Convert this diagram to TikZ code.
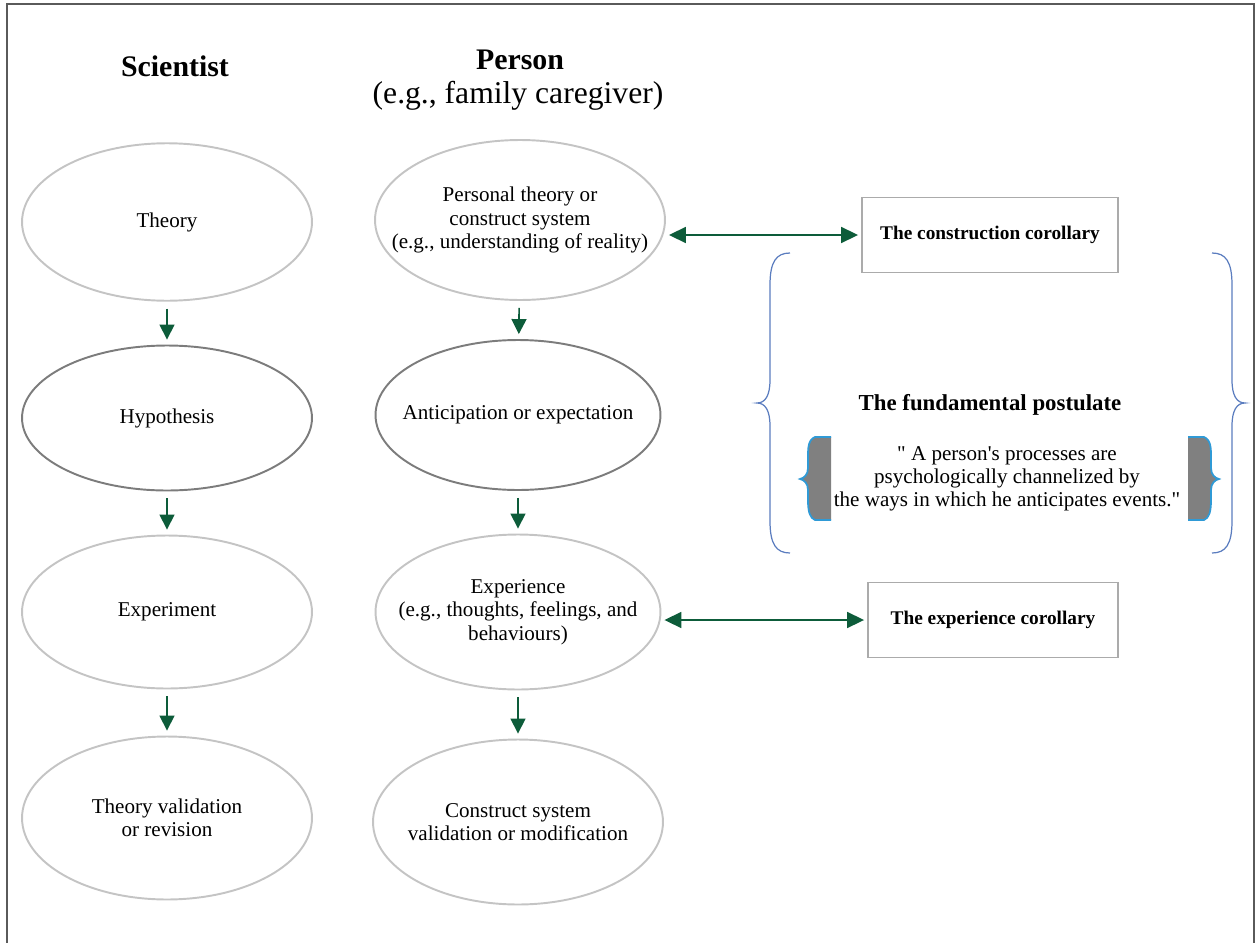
\documentclass[tikz,border=0pt]{standalone}
\usepackage{fontspec}
\setmainfont{Liberation Serif}
\usetikzlibrary{shapes.geometric, arrows.meta}
\definecolor{softgray}{HTML}{C4C4C4}
\definecolor{ringgray}{HTML}{7C7C7C}
\definecolor{boxgray}{HTML}{ABABAB}
\definecolor{framegray}{HTML}{5A5A5A}
\definecolor{arrowgreen}{HTML}{0D5C3A}
\definecolor{braceblue}{HTML}{5B7DBF}
\definecolor{edgeblue}{HTML}{2F9AD6}
\definecolor{fillgray}{HTML}{808080}

\begin{document}
\begin{tikzpicture}[x=0.02cm, y=-0.02cm,
  every node/.style={font=\fontsize{12}{13.4}\selectfont, align=center, inner sep=0pt},
  oval/.style={ellipse, draw=softgray, line width=1.1pt, minimum width=5.8cm, minimum height=3.15cm},
  darkoval/.style={oval, draw=ringgray},
  corollary/.style={rectangle, draw=boxgray, line width=1.1pt, minimum height=1.5cm, font=\fontsize{11}{13}\selectfont\bfseries},
  flow/.style={-{Triangle[width=0.3cm,length=0.3cm]}, arrowgreen, line width=0.9pt, shorten <=0.14cm, shorten >=0.1cm},
  twoway/.style={{Triangle[width=0.32cm,length=0.34cm]}-{Triangle[width=0.32cm,length=0.34cm]}, arrowgreen, line width=1pt, shorten <=0.06cm, shorten >=0.06cm}]
  \useasboundingbox (0,0) rectangle (1258,943);
  \draw[framegray, line width=1pt] (7,943) -- (7,4) -- (1254,4) -- (1254,943);

  \node[font=\fontsize{17}{20}\selectfont\bfseries] (scititle) at (175,66) {Scientist};
  \node[font=\fontsize{17}{20}\selectfont\bfseries] (pertitle) at (520,60) {Person};
  \node[font=\fontsize{18}{21}\selectfont] (persub) at (518,96) {(e.g., family caregiver)};

  % scientist column
  \node[oval, label=center:Theory] (theory) at (167,222) {};
  \node[darkoval, minimum height=2.9cm, label=center:Hypothesis] (hypo) at (167,418) {};
  \node[oval, minimum height=3.06cm, label=center:Experiment] (experiment) at (167,612) {};
  \node[oval, minimum height=3.26cm, label={center:Theory validation\\or revision}] (validation) at (167,818) {};

  % person column
  \node[oval, minimum height=3.2cm, label={center:Personal theory or\\construct system\\(e.g., understanding of reality)}] (ptheory) at (520,220) {};
  \node[darkoval, minimum width=5.7cm, minimum height=3cm, label=center:Anticipation or expectation] (anticip) at (518,415) {};
  \node[oval, minimum width=5.7cm, minimum height=3.1cm, label={center:Experience\\(e.g., thoughts, feelings, and\\behaviours)}] (experience) at (518,612) {};
  \node[oval, minimum height=3.3cm, label={center:Construct system\\validation or modification}] (modify) at (518,822) {};

  \draw[flow] (theory) -- (hypo);
  \draw[flow] (hypo) -- (experiment);
  \draw[flow] (experiment) -- (validation);
  \draw[flow] (ptheory) -- (anticip);
  \draw[flow] (anticip) -- (experience);
  \draw[flow] (experience) -- (modify);

  % corollaries
  \node[corollary, minimum width=5.12cm] (construction) at (990,235) {The construction corollary};
  \node[corollary, minimum width=5cm] (expcor) at (993,620) {The experience corollary};
  \draw[twoway] (construction.west -| ptheory.east) -- (construction.west);
  \draw[twoway] (expcor.west -| experience.east) -- (expcor.west);

  % postulate
  \node[font=\fontsize{13}{15}\selectfont\bfseries] (postulate) at (990,405) {The fundamental postulate};
  \node[font=\fontsize{12}{13}\selectfont] (quote) at (1007,479) {\textquotedbl{} A person\textquotesingle s processes are\\psychologically channelized by\\the ways in which he anticipates events.\textquotedbl};
  \draw[braceblue, line width=0.7pt] (790,253) .. controls (776,253) and (770,262) .. (770,285) -- (770,380) .. controls (770,396) and (765,403) .. (757,403) .. controls (765,403) and (770,410) .. (770,426) -- (770,521) .. controls (770,544) and (776,553) .. (790,553);
  \draw[braceblue, line width=0.7pt] (1212,253) .. controls (1226,253) and (1232,262) .. (1232,285) -- (1232,380) .. controls (1232,396) and (1237,403) .. (1245,403) .. controls (1237,403) and (1232,410) .. (1232,426) -- (1232,521) .. controls (1232,544) and (1226,553) .. (1212,553);
  \path[fill=fillgray, draw=edgeblue, line width=1pt] (831,437) -- (815,437) .. controls (808,440) and (808,448) .. (808,458) -- (808,468) .. controls (808,475) and (804,478) .. (800,479) .. controls (804,480) and (808,483) .. (808,490) -- (808,500) .. controls (808,512) and (810,518) .. (815,520) -- (831,520);
  \path[fill=fillgray, draw=edgeblue, line width=1pt] (1188,437) -- (1204,437) .. controls (1211,440) and (1211,448) .. (1211,458) -- (1211,468) .. controls (1211,475) and (1215,478) .. (1219,479) .. controls (1215,480) and (1211,483) .. (1211,490) -- (1211,500) .. controls (1211,512) and (1209,518) .. (1204,520) -- (1188,520);
\end{tikzpicture}
\end{document}
